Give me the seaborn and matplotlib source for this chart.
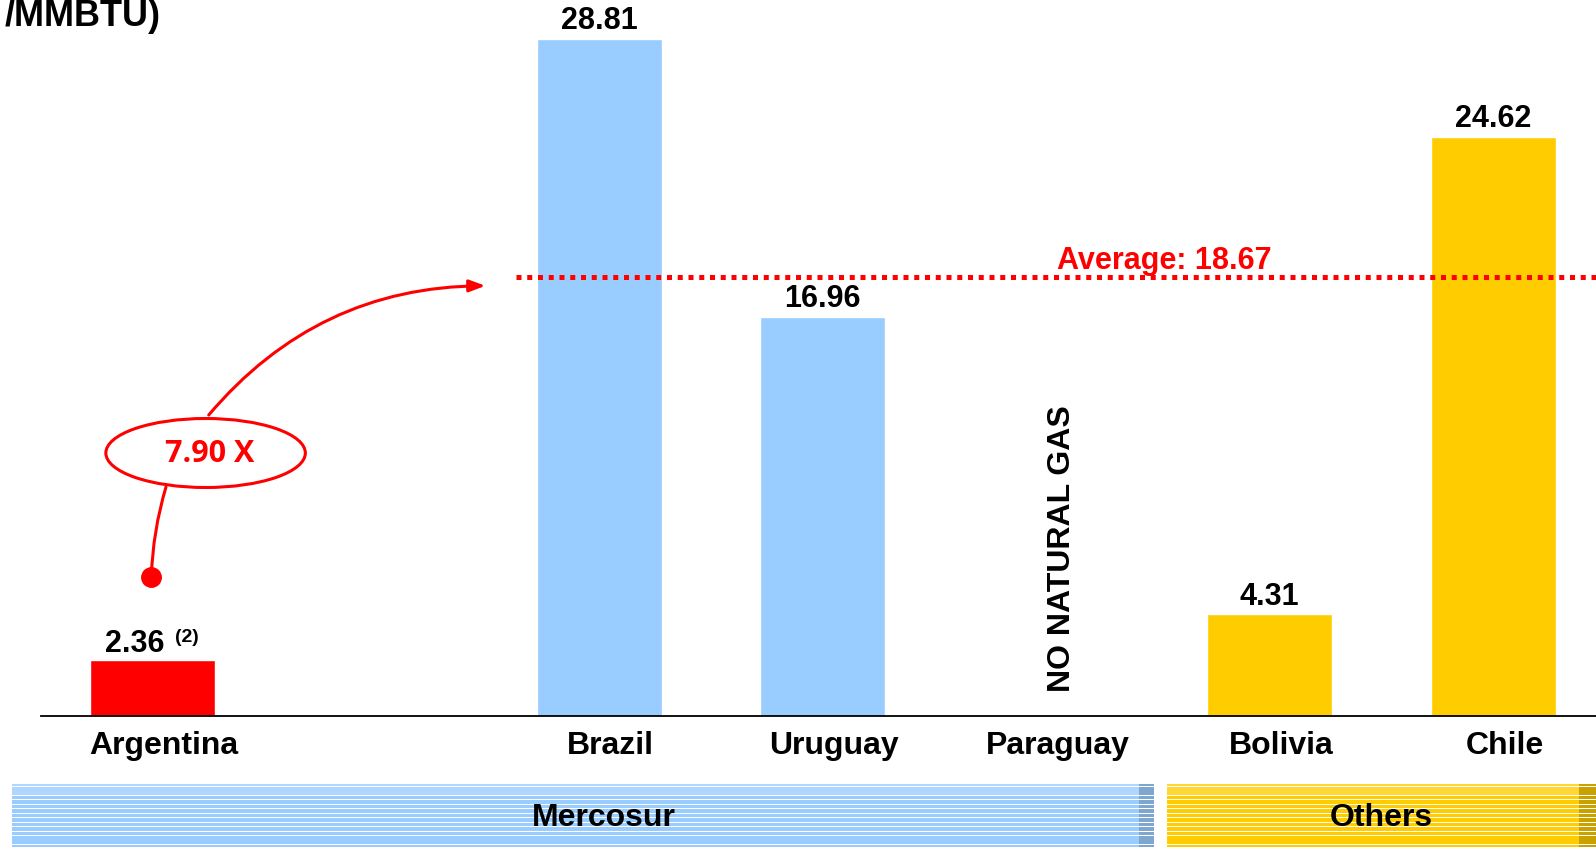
import numpy as np
import pandas as pd
import matplotlib
matplotlib.use("Agg")
import matplotlib.pyplot as plt
import matplotlib.transforms as mtrans
import seaborn as sns
from matplotlib.patches import Rectangle, Ellipse, FancyArrowPatch
from matplotlib.lines import Line2D

# ---------------- data ----------------
countries = ["Argentina", "Brazil", "Uruguay", "Paraguay", "Bolivia", "Chile"]
prices = [2.36, 28.81, 16.96, np.nan, 4.31, 24.62]
groups = ["Argentina", "Mercosur", "Mercosur", "Mercosur", "Others", "Others"]
average_price = 18.67
ratio_label = "7.90 X"
unit_label = "/MMBTU)"
no_gas_label = "NO NATURAL GAS"
footnote_mark = "(2)"
band_labels = ["Mercosur", "Others"]

order = ["Argentina", " ", "Brazil", "Uruguay", "Paraguay", "Bolivia", "Chile"]

RED = "#FF0000"
BLUE = "#99CCFF"
YELLOW = "#FFCC00"
palette = {"Argentina": RED, "Mercosur": BLUE, "Others": YELLOW}

sns.set_theme(style="white")
plt.rcParams["font.family"] = ["Liberation Sans", "DejaVu Sans"]

W, H = 1596, 847
fig = plt.figure(figsize=(W / 100, H / 100), dpi=100)


def fx(x):
    return x / W


def fy(y):
    return 1 - y / H


base_px = 715.6
left_px = 40.7
ax = fig.add_axes([fx(left_px), fy(base_px), 1 - fx(left_px), base_px / H])

df = pd.DataFrame({"country": countries, "price": prices, "group": groups})
sns.barplot(data=df, x="country", y="price", hue="group", order=order,
            palette=palette, width=0.56, dodge=False, legend=False,
            saturation=1, ax=ax)

ax.set_xlim(-0.5, 6.46)
ax.set_ylim(0, base_px / 23.5)
ax.set_xlabel("")
ax.set_ylabel("")
ax.set_yticks([])
for s in ["left", "right", "top"]:
    ax.spines[s].set_visible(False)
ax.spines["bottom"].set_color("black")
ax.spines["bottom"].set_linewidth(1.3)
ax.tick_params(axis="x", length=0, pad=11, labelsize=23, colors="black")
shift = mtrans.ScaledTranslation(11.5 / 100, 0, fig.dpi_scale_trans)
for lbl in ax.get_xticklabels():
    lbl.set_fontweight("bold")
    lbl.set_transform(lbl.get_transform() + shift)

# value labels
for c, p in zip(countries, prices):
    pos = order.index(c)
    if np.isnan(p):
        ax.annotate(no_gas_label, xy=(pos, 1.0), xytext=(11, 0),
                    textcoords="offset points", rotation=90, ha="center",
                    va="bottom", fontsize=23, fontweight="bold", color="black")
        continue
    if c == "Argentina":
        ax.annotate(f"{p:.2f}", xy=(pos, p), xytext=(-13, 6),
                    textcoords="offset points", ha="center", va="baseline",
                    fontsize=22, fontweight="bold", color="black")
        ax.annotate(footnote_mark, xy=(pos, p), xytext=(16, 13),
                    textcoords="offset points", ha="left", va="baseline",
                    fontsize=14, fontweight="bold", color="black")
    else:
        ax.annotate(f"{p:.2f}", xy=(pos, p), xytext=(0, 7),
                    textcoords="offset points", ha="center", va="baseline",
                    fontsize=22, fontweight="bold", color="black")

# average line
ax.plot([1.625, 6.46], [average_price, average_price], color=RED, lw=3.6,
        linestyle=(0, (1, 1.15)), dash_capstyle="butt", clip_on=False)
ax.annotate(f"Average: {average_price:.2f}", xy=(4.53, average_price),
            xytext=(0, 6), textcoords="offset points", ha="center",
            va="baseline", fontsize=22, fontweight="bold", color=RED)

# unit label (cut at left edge)
fig.text(fx(161), fy(26.5), unit_label, ha="right", va="baseline",
         fontsize=26, fontweight="bold", color="black")

# ellipse callout
fig.add_artist(Ellipse((fx(205.6), fy(453)), width=199.5 / W, height=69 / H,
                       transform=fig.transFigure, fill=False, ec=RED, lw=2.2))
fig.text(fx(210), fy(454), ratio_label, ha="center", va="center",
         fontsize=22, color=RED, family="Open Sans", fontweight="bold")
ax.annotate("", xy=(1.49, average_price - 0.38), xycoords="data",
            xytext=(fx(208.7), fy(415)), textcoords="figure fraction",
            arrowprops=dict(arrowstyle="-|>,head_length=0.8,head_width=0.3",
                            connectionstyle="arc3,rad=-0.23", color=RED,
                            lw=2.2, shrinkA=0, shrinkB=0))
fig.add_artist(FancyArrowPatch(posA=(fx(166), fy(487)),
                               posB=(fx(151.3), fy(577)),
                               transform=fig.transFigure,
                               connectionstyle="arc3,rad=0.065",
                               arrowstyle="-", color=RED, lw=2.2,
                               shrinkA=0, shrinkB=0))
fig.add_artist(Line2D([fx(151.3)], [fy(577)], marker="o", ms=14, color=RED,
                      transform=fig.transFigure))


# striped group bands
def band(x0, x1, xdark, color, dark, light):
    y = 784.0
    period = 4.47
    k = 0
    while y < H:
        h = 3.7 if k > 0 else 2.0
        col = light if k < 3 else color
        y1 = min(y + h, H)
        fig.add_artist(Rectangle((fx(x0), fy(y1)), fx(xdark - x0),
                                 (y1 - y) / H, transform=fig.transFigure,
                                 color=col, lw=0))
        fig.add_artist(Rectangle((fx(xdark), fy(y1)), fx(x1 - xdark),
                                 (y1 - y) / H, transform=fig.transFigure,
                                 color=dark, lw=0))
        y = y + (2.8 if k == 0 else period)
        k += 1


band(12, 1154, 1139, BLUE, "#7FA6CE", "#AED6FF")
band(1166.7, 1596, 1579, YELLOW, "#C9A200", "#FFD633")

fig.text(fx(603.6), fy(818), band_labels[0], ha="center", va="center",
         fontsize=23, fontweight="bold", color="black")
fig.text(fx(1381), fy(818), band_labels[1], ha="center", va="center",
         fontsize=23, fontweight="bold", color="black")

fig.savefig("out.png", dpi=100)
